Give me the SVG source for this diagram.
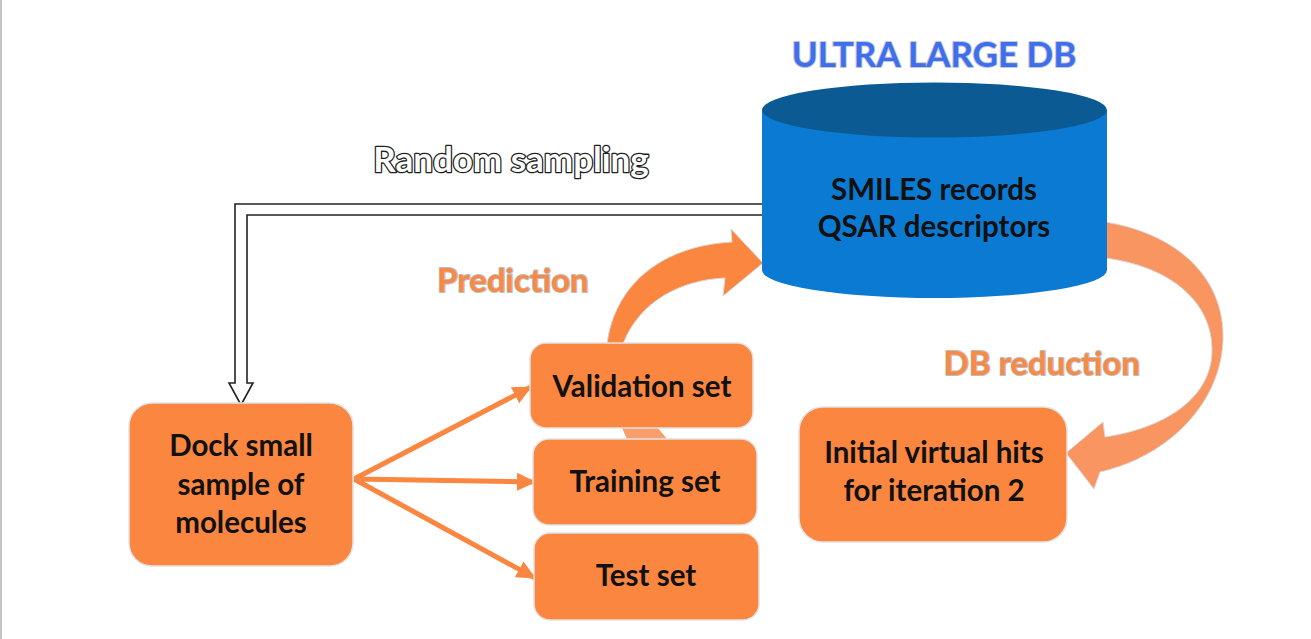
<svg xmlns="http://www.w3.org/2000/svg" width="1311" height="639" viewBox="0 0 1311 639">
  <defs>
    <style>
      .box { fill: #fa8640; stroke: #e2e2e2; stroke-width: 1.5; }
      .ntext { font-family: Lato, "Liberation Sans", sans-serif; font-weight: bold; font-size: 29.5px; fill: #111111; text-anchor: middle; }
      .label { font-family: Lato, "Liberation Sans", sans-serif; font-weight: bold; font-size: 33px; text-anchor: middle; paint-order: stroke; stroke-linejoin: round; }
      .orange-label { fill: #f98a45; stroke: #bdbdbd; stroke-width: 2; }
      .white-label { fill: #ffffff; stroke: #1e1e1e; stroke-width: 2.6; font-size: 35px; }
      .blue-label { fill: #3d6ff0; stroke: #c9c9c9; stroke-width: 2; font-size: 35px; }
      .fan { stroke: #fa8640; stroke-width: 5; fill: none; }
    </style>
    <marker id="orangeHead" markerUnits="userSpaceOnUse" markerWidth="22" markerHeight="20" refX="18" refY="10" orient="auto">
      <path d="M0,1 L19,10 L0,19 Z" fill="#fa8640"/>
    </marker>
  </defs>

  <rect x="0" y="0" width="1311" height="639" fill="#ffffff"/>
  <line x1="1" y1="0" x2="1" y2="639" stroke="#b0b0b0" stroke-width="1.5"/>

  <!-- Labels -->
  <g id="labels">
    <text class="label blue-label" x="934" y="67">ULTRA LARGE DB</text>
    <text class="label white-label" x="511" y="172">Random sampling</text>
    <text class="label orange-label" x="513" y="292">Prediction</text>
    <text class="label orange-label" x="1042" y="375">DB reduction</text>
  </g>

  <!-- Connectors -->
  <g id="connectors">
    <!-- Random sampling: hollow double-line arrow -->
    <path d="M765,204 L235,204 L235,383 L229,383 L241,405 L253,383 L247,383 L247,215 L765,215" fill="#ffffff" stroke="#222222" stroke-width="1.6" stroke-linejoin="miter"/>
    <!-- fan arrows -->
    <line class="fan" x1="354" y1="479" x2="531" y2="387" marker-end="url(#orangeHead)"/>
    <line class="fan" x1="354" y1="479" x2="535" y2="482" marker-end="url(#orangeHead)"/>
    <line class="fan" x1="354" y1="479" x2="535" y2="578" marker-end="url(#orangeHead)"/>
    <!-- validation-training link -->
    <polygon points="622,428 658,428 667,439 627,439" fill="#f7a06c"/>
    <!-- Prediction curved arrow -->
    <path d="M607,344 C614,288 658,246 732,242 L731,229 L763,263 L723,296 L725,278 C682,280 640,300 623,344 Z" fill="#fa8640" stroke="#d8d8d8" stroke-width="1"/>
    <!-- DB reduction curved arrow -->
    <path d="M1105,222 C1180,234 1225,280 1223,340 C1221,402 1170,456 1100,472 L1094,489 L1066,453 L1103,422 L1105,437 C1165,428 1212,398 1212,350 C1212,300 1168,266 1105,258 Z" fill="#f99560" stroke="#d8d8d8" stroke-width="1"/>
  </g>

  <!-- Database cylinder -->
  <g id="db">
    <path d="M762,110 L762,270 A172.5,28 0 0 0 1107,270 L1107,110 Z" fill="#0a7ad2"/>
    <ellipse cx="934.5" cy="110" rx="172.5" ry="27.5" fill="#0b5a93"/>
    <text class="ntext" x="934" y="200">SMILES records</text>
    <text class="ntext" x="934" y="237">QSAR descriptors</text>
  </g>

  <g id="dock">
    <rect class="box" x="129" y="403" width="224" height="163" rx="23"/>
    <text class="ntext" x="241" y="456">Dock small</text>
    <text class="ntext" x="241" y="495">sample of</text>
    <text class="ntext" x="241" y="533">molecules</text>
  </g>

  <g id="validation">
    <rect class="box" x="530" y="343" width="223" height="85" rx="16"/>
    <text class="ntext" x="642" y="397">Validation set</text>
  </g>

  <g id="training">
    <rect class="box" x="533" y="439" width="224" height="86" rx="16"/>
    <text class="ntext" x="645" y="492">Training set</text>
  </g>

  <g id="test">
    <rect class="box" x="534" y="533" width="225" height="87" rx="16"/>
    <text class="ntext" x="646" y="586">Test set</text>
  </g>

  <g id="hits">
    <rect class="box" x="799" y="407" width="268" height="135" rx="24"/>
    <text class="ntext" x="934" y="463">Initial virtual hits</text>
    <text class="ntext" x="934" y="501">for iteration 2</text>
  </g>
</svg>
